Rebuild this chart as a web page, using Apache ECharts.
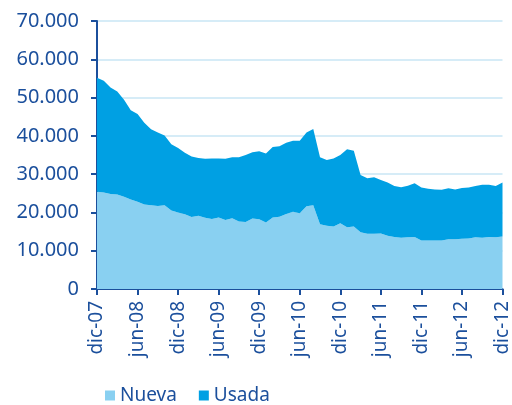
<!DOCTYPE html>
<html>
<head>
<meta charset="utf-8" />
<title>Nueva / Usada</title>
<script type="text/javascript" src="https://cdn.jsdelivr.net/npm/echarts@6/dist/echarts.min.js"></script>
<style type="text/css">
html, body {
	width: 100%;
	height: 100%;
	margin: 0;
	background: #fff;
}
#main {
	width: 512px;
	height: 405px;
}
</style>
</head>
<body>
<div id="main"></div>
<script type="text/javascript">
// meses dic-07 .. dic-12
var monthNames = ['ene', 'feb', 'mar', 'abr', 'may', 'jun', 'jul', 'ago', 'sep', 'oct', 'nov', 'dic'];
var categories = ['dic-07'];
for (var y = 8; y <= 12; y++) {
	for (var m = 0; m < 12; m++) {
		categories.push(monthNames[m] + '-' + (y < 10 ? '0' + y : y));
	}
}

var nueva = [
	25400, 25200, 24800, 24700, 24100, 23400, 22800, 22100, 21900, 21700, 21900, 20500,
	20000, 19500, 18800, 19100, 18600, 18300, 18700, 18000, 18500, 17600, 17500, 18400,
	18200, 17400, 18700, 18900, 19600, 20200, 19800, 21600, 21900, 16900, 16500, 16300,
	17200, 16100, 16300, 14800, 14400, 14400, 14500, 13900, 13600, 13400, 13500, 13600,
	12700, 12700, 12700, 12700, 13000, 13000, 13100, 13200, 13500, 13400, 13600, 13500,
	13700
];

var usada = [
	29800, 29200, 27800, 26900, 25300, 23300, 22900, 21300, 19800, 19200, 18200, 17300,
	16800, 16100, 15800, 15100, 15400, 15800, 15400, 16000, 15900, 16800, 17500, 17300,
	17800, 18000, 18400, 18400, 18600, 18500, 18900, 19300, 19900, 17500, 17200, 17800,
	17800, 20400, 19800, 15000, 14500, 14800, 14000, 13900, 13300, 13200, 13500, 14000,
	13800, 13500, 13300, 13200, 13300, 13000, 13300, 13300, 13400, 13800, 13600, 13400,
	14100
];

var textColor = '#1b4f9c';
var fontName = 'Noto Sans';

var chart = echarts.init(document.getElementById('main'), null, { renderer: 'canvas' });

var option = {
	animation: false,
	textStyle: { fontFamily: fontName },
	grid: {
		left: 97,
		right: 8,
		top: 21,
		bottom: 116,
		containLabel: false
	},
	legend: {
		left: 100,
		top: 381,
		icon: 'rect',
		itemWidth: 10,
		itemHeight: 10,
		itemGap: 22,
		textStyle: { color: textColor, fontSize: 19, fontFamily: fontName },
		data: ['Nueva', 'Usada']
	},
	xAxis: {
		type: 'category',
		data: categories,
		boundaryGap: false,
		axisLine: { lineStyle: { color: textColor, width: 2 } },
		axisTick: { interval: 5, length: 6, lineStyle: { color: textColor, width: 2 } },
		axisLabel: {
			interval: 5,
			rotate: 90,
			margin: 12,
			color: textColor,
			fontSize: 19,
			fontFamily: fontName
		},
		splitLine: { show: false }
	},
	yAxis: {
		type: 'value',
		min: 0,
		max: 70000,
		interval: 10000,
		axisLine: { show: true, lineStyle: { color: textColor, width: 2 } },
		axisTick: { show: true, length: 6, lineStyle: { color: textColor, width: 2 } },
		axisLabel: {
			margin: 18,
			color: textColor,
			fontSize: 20,
			fontFamily: fontName,
			formatter: function (v) {
				return v === 0 ? '0' : (v / 1000) + '.000';
			}
		},
		splitLine: { lineStyle: { color: '#c8e6f5', width: 1.5 } }
	},
	series: [{
		name: 'Nueva',
		type: 'line',
		stack: 'total',
		data: nueva,
		symbol: 'none',
		itemStyle: { color: '#89d0f1' },
		lineStyle: { width: 0 },
		areaStyle: { color: '#89d0f1', opacity: 1 }
	}, {
		name: 'Usada',
		type: 'line',
		stack: 'total',
		data: usada,
		symbol: 'none',
		itemStyle: { color: '#00a0e3' },
		lineStyle: { width: 0 },
		areaStyle: { color: '#00a0e3', opacity: 1 }
	}]
};

chart.setOption(option);
</script>
</body>
</html>
